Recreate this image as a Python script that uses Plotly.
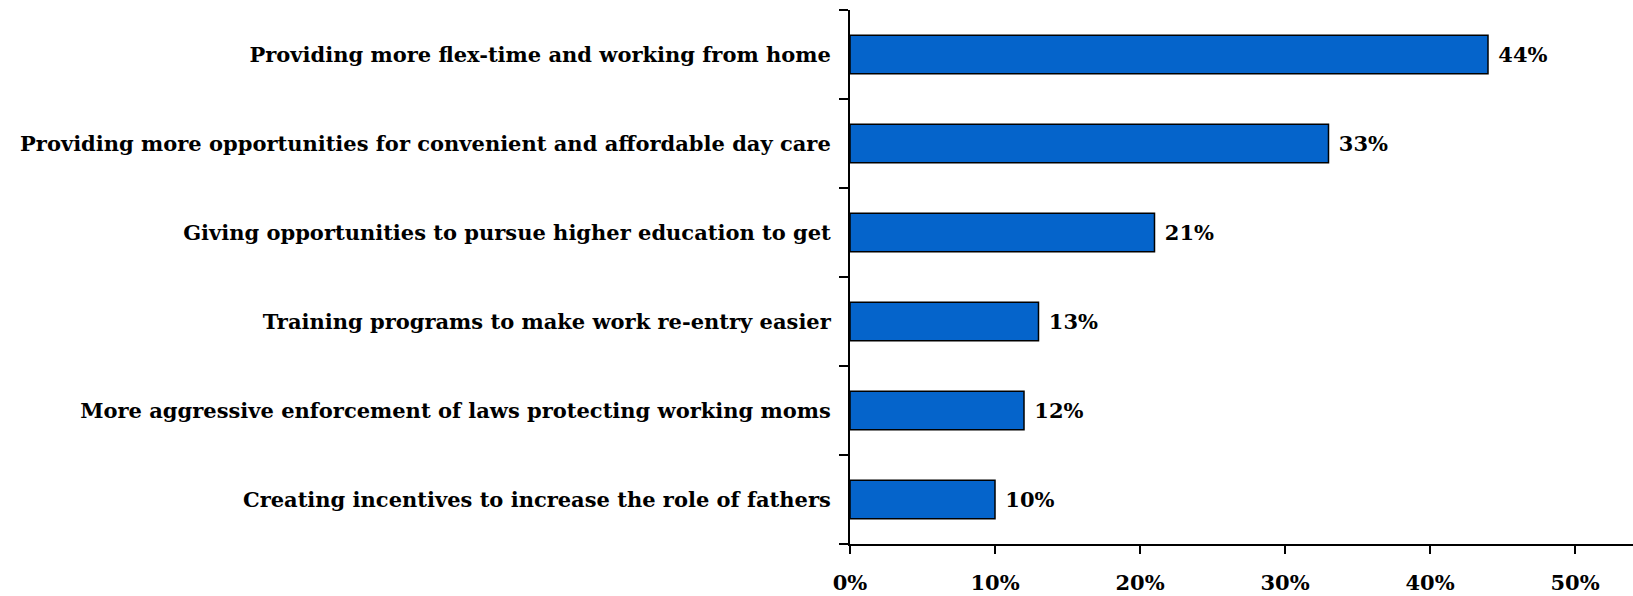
import plotly.graph_objects as go

# Survey responses, listed top to bottom as displayed
categories = [
    "Providing more flex-time and working from home",
    "Providing more opportunities for convenient and affordable day care",
    "Giving opportunities to pursue higher education to get",
    "Training programs to make work re-entry easier",
    "More aggressive enforcement of laws protecting working moms",
    "Creating incentives to increase the role of fathers",
]
shares = [44, 33, 21, 13, 12, 10]
x_ticks = [0, 10, 20, 30, 40, 50]
x_tick_labels = ["0%", "10%", "20%", "30%", "40%", "50%"]

FONT = "DejaVu Serif"
SIZE = 21
BLUE = "#0564CB"

fig = go.Figure(
    go.Bar(
        y=categories,
        x=shares,
        orientation="h",
        width=0.43,
        marker=dict(color=BLUE, line=dict(color="black", width=1.5)),
        text=[f" {v}%" for v in shares],
        textposition="outside",
        cliponaxis=False,
        textfont=dict(family=FONT, size=SIZE, color="black", weight="bold"),
    )
)

fig.update_layout(
    width=1633,
    height=596,
    margin=dict(l=850, r=0, t=10, b=52),
    paper_bgcolor="white",
    plot_bgcolor="white",
    showlegend=False,
    font=dict(family=FONT, size=SIZE, color="black"),
)

fig.update_yaxes(
    categoryorder="array",
    categoryarray=categories[::-1],
    showline=True,
    linecolor="black",
    linewidth=2,
    ticks="outside",
    tickson="boundaries",
    ticklen=9,
    tickwidth=2,
    tickcolor="black",
    ticklabelstandoff=13,
    tickfont=dict(family=FONT, size=SIZE, color="black", weight="bold"),
    showgrid=False,
    zeroline=False,
    automargin=False,
)

fig.update_xaxes(
    range=[0, 54.0],
    tickvals=x_ticks,
    ticktext=x_tick_labels,
    showline=True,
    linecolor="black",
    linewidth=2,
    ticks="outside",
    ticklen=8,
    tickwidth=2,
    tickcolor="black",
    ticklabelstandoff=11,
    tickfont=dict(family=FONT, size=SIZE, color="black", weight="bold"),
    showgrid=False,
    zeroline=False,
    automargin=False,
)

fig.write_html("out.html")
